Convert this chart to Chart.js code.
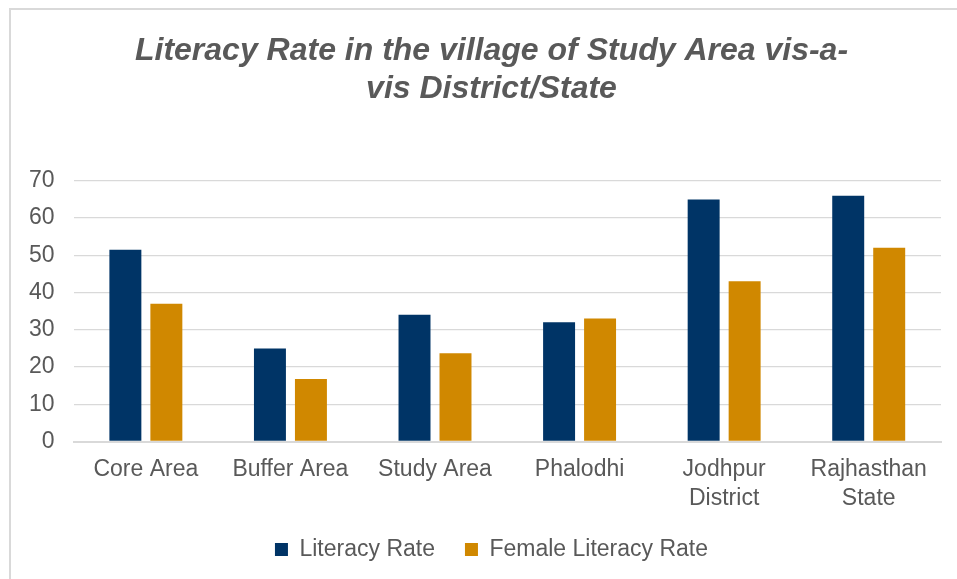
<!DOCTYPE html>
<html>
<head>
<meta charset="utf-8">
<script src="https://cdn.jsdelivr.net/npm/chart.js@4.4.0/dist/chart.umd.min.js"></script>
<style>
    html, body { margin: 0; padding: 0; background: #fff; overflow: hidden; }
    body { width: 957px; height: 579px; position: relative; }
    /* chart frame (only left/top edges visible in the crop) */
    .frame {
        position: absolute; left: 9px; top: 8px;
        width: 964px; height: 600px;
        border-left: 2px solid #d9d9d9;
        border-top: 2px solid #d9d9d9;
        box-sizing: border-box;
    }
    .wrap { position: absolute; left: 10px; top: 10px; width: 963px; height: 569px; }
</style>
</head>
<body>
<div class="frame"></div>
<div class="wrap"><canvas id="literacyChart"></canvas></div>
<script>
// 데이터
const categories = ['Core Area', 'Buffer Area', 'Study Area', 'Phalodhi', ['Jodhpur', 'District'], ['Rajhasthan', 'State']];
const literacyRate = [51.5, 25, 34, 32, 65, 66];
const femaleLiteracyRate = [37, 16.8, 23.7, 33, 43, 52];
const yTicks = [0, 10, 20, 30, 40, 50, 60, 70];

const TEXT_COLOR = '#595959';
const GRID_COLOR = '#d9d9d9';
const FONT = "'Liberation Sans', Arial, sans-serif";

Chart.defaults.font.family = FONT;
Chart.defaults.color = TEXT_COLOR;

const ctx = document.getElementById('literacyChart').getContext('2d');

new Chart(ctx, {
    type: 'bar',
    data: {
        labels: categories,
        datasets: [
            {
                label: 'Literacy Rate',
                data: literacyRate,
                backgroundColor: '#003466',
                categoryPercentage: 0.567,
                barPercentage: 0.78
            },
            {
                label: 'Female Literacy Rate',
                data: femaleLiteracyRate,
                backgroundColor: '#d08800',
                categoryPercentage: 0.567,
                barPercentage: 0.78
            }
        ]
    },
    options: {
        responsive: true,
        maintainAspectRatio: false,
        animation: false,
        layout: { padding: { left: 0, right: 0, top: 0, bottom: 8 } },
        plugins: {
            title: {
                display: true,
                text: ['Literacy Rate in the village of Study Area vis-a-', 'vis District/State'],
                color: TEXT_COLOR,
                font: { size: 32, weight: 'bold', style: 'italic', lineHeight: 1.2 },
                padding: { top: 22, bottom: 72 }
            },
            legend: {
                position: 'bottom',
                labels: {
                    boxWidth: 13,
                    boxHeight: 13,
                    padding: 30,
                    color: TEXT_COLOR,
                    font: { size: 23 }
                }
            },
            tooltip: { enabled: false }
        },
        scales: {
            x: {
                grid: { display: false, drawTicks: false },
                border: { color: GRID_COLOR, width: 2 },
                ticks: {
                    color: TEXT_COLOR,
                    font: { size: 23, lineHeight: 1.25 },
                    padding: 14,
                    maxRotation: 0,
                    autoSkip: false
                },
                // labels may sit in the legend's empty top padding
                afterFit: axis => { axis.height -= 19; }
            },
            y: {
                min: 0,
                max: 70,
                afterBuildTicks: axis => { axis.ticks = yTicks.map(v => ({ value: v })); },
                grid: { color: GRID_COLOR, lineWidth: 1.3, drawTicks: false },
                border: { display: false },
                ticks: {
                    color: TEXT_COLOR,
                    font: { size: 23 },
                    padding: 19
                }
            },
            // empty spacer on the right so title/legend stay centred on the frame
            yRight: {
                position: 'right',
                display: true,
                grid: { display: false, drawTicks: false },
                border: { display: false },
                ticks: { display: false },
                afterFit: axis => { axis.width = 32; }
            }
        }
    }
});
</script>
</body>
</html>
